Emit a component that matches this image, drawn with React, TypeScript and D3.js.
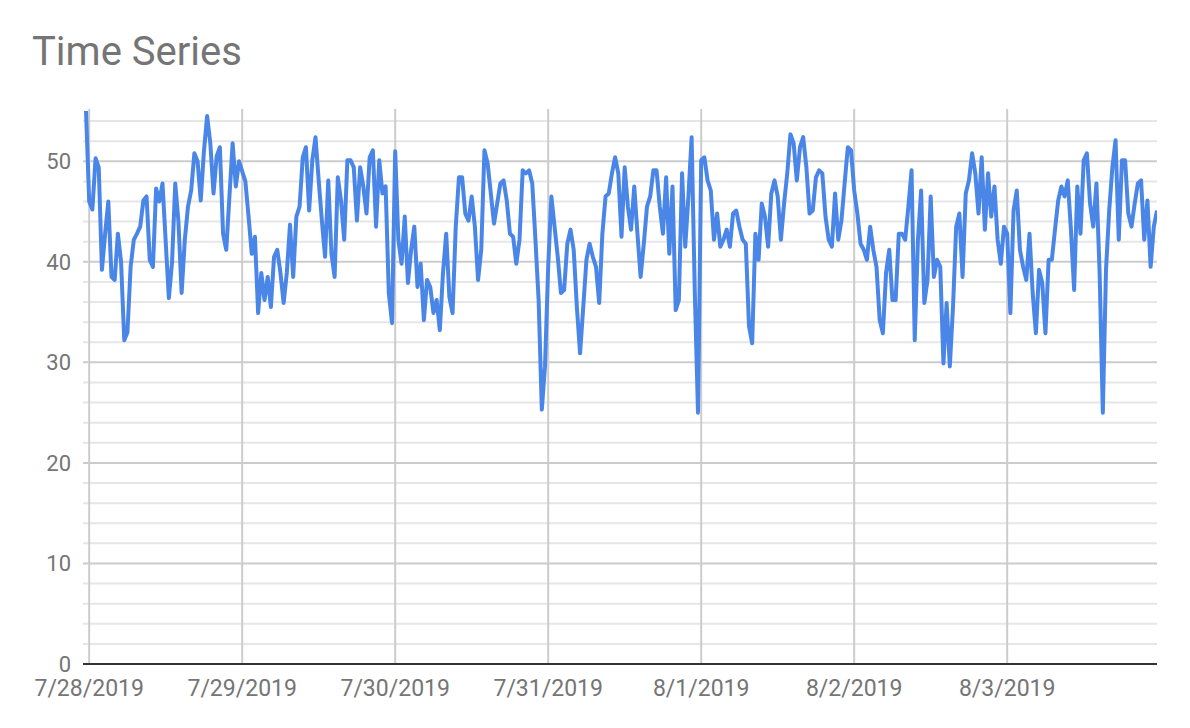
import * as d3 from 'd3';
import { FunctionComponent } from "react";

// one reading every 30 minutes, first reading at 7/27/2019 23:30
const startTime = new Date(2019, 6, 27, 23, 30);
const stepMinutes = 30;
const firstValue = [55];

const day0728 = [46, 45.2, 50.3, 49.4, 39.2, 42.8, 46, 38.5, 38.2, 42.8, 40, 32.2, 33, 39.5, 42.2, 42.8, 43.5, 46.1, 46.5, 40.2, 39.5, 47.3, 46, 47.8, 42, 36.4, 40, 47.8, 44, 36.9, 42.2, 45.5, 47.1, 50.8, 50, 46.1, 51, 54.5, 51.8, 46.8, 50.5, 51.4, 42.8, 41.2, 46.5, 51.8, 47.5, 50];
const day0729 = [49, 48, 44.5, 40.8, 42.5, 34.9, 38.9, 36.2, 38.5, 35.5, 40.5, 41.2, 38.9, 35.9, 38.9, 43.7, 38.5, 44.5, 45.5, 50.4, 51.4, 45.1, 50.1, 52.4, 48.1, 44.1, 40.5, 48.1, 40.8, 38.5, 48.4, 46.1, 42.2, 50.1, 50.1, 49.4, 44.1, 49.4, 47.5, 44.8, 50.4, 51.1, 43.5, 50.1, 46.8, 47.5, 36.9, 33.9];
const day0730 = [51, 42.2, 39.8, 44.5, 37.9, 41.2, 43.5, 37.5, 39.8, 34.2, 38.2, 37.5, 34.9, 36.2, 33.2, 38.9, 42.8, 36.5, 34.9, 43.5, 48.4, 48.4, 44.8, 44.1, 46.5, 43.5, 38.2, 41.2, 51.1, 49.8, 46.8, 43.8, 45.8, 47.8, 48.1, 46.1, 42.8, 42.5, 39.8, 42.2, 49.1, 48.8, 49.1, 47.8, 42.2, 36.2, 25.3, 29.6];
const day0731 = [39.5, 46.5, 43.5, 40.5, 36.9, 37.2, 41.8, 43.2, 41.2, 35.5, 30.9, 35.5, 40.2, 41.8, 40.5, 39.5, 35.9, 42.8, 46.5, 46.8, 48.8, 50.4, 48.8, 42.5, 49.4, 45.5, 43.2, 47.5, 42.8, 38.5, 41.8, 45.5, 46.5, 49.1, 49.1, 45.5, 42.8, 48.4, 40.8, 47.5, 35.2, 36.2, 48.8, 41.5, 46.5, 52.4, 36.9, 25];
const day0801 = [50.1, 50.4, 48.1, 47.1, 42.2, 44.8, 41.5, 42.2, 43.2, 41.5, 44.8, 45.1, 43.5, 42.2, 41.8, 33.6, 31.9, 42.8, 40.2, 45.8, 44.5, 41.5, 46.8, 48.1, 46.5, 42.2, 45.8, 48.8, 52.7, 51.8, 48.1, 51.4, 52.4, 49.4, 44.8, 45.1, 48.4, 49.1, 48.8, 44.5, 42.2, 41.5, 46.8, 42.2, 44.1, 47.8, 51.4, 51.1];
const day0802 = [47.1, 44.8, 41.8, 41.2, 40.2, 43.5, 41.2, 39.5, 34.2, 32.9, 38.9, 41.2, 36.2, 36.2, 42.8, 42.8, 42.2, 45.5, 49.1, 32.2, 42.2, 47.1, 35.9, 38.2, 46.5, 38.5, 40.2, 39.5, 29.9, 35.9, 29.6, 35.5, 43.5, 44.8, 38.5, 46.8, 48.1, 50.8, 48.8, 44.8, 50.4, 43.2, 48.8, 44.5, 47.5, 42.2, 39.8, 43.5];
const day0803 = [42.8, 34.9, 45.1, 47.1, 41.2, 39.5, 38.2, 42.8, 36.9, 32.9, 39.2, 37.9, 32.9, 40.2, 40.2, 43.2, 46.1, 47.5, 46.5, 48.1, 43.2, 37.2, 47.5, 42.8, 50.1, 50.8, 45.8, 43.5, 47.8, 38.9, 25, 39.2, 45.1, 49.4, 52.1, 42.2, 50.1, 50.1, 44.8, 43.5, 45.8, 47.8, 48.1, 42.2, 46.1, 39.5, 43.5, 45.1];

const majorTicks = [0, 10, 20, 30, 40, 50];
const minorTicks = [2, 4, 6, 8, 12, 14, 16, 18, 22, 24, 26, 28, 32, 34, 36, 38, 42, 44, 46, 48, 52, 54];

const title = "Time Series";

const values = [...firstValue, ...day0728, ...day0729, ...day0730, ...day0731, ...day0801, ...day0802, ...day0803];
const points = values.map((v, i) => ({ time: new Date(startTime.getTime() + i * stepMinutes * 60000), value: v }));

const width = 1190;
const height = 728;
const areaLeft = 83;
const areaRight = 1157;
const areaTop = 109;
const areaBottom = 664;
const font = "Roboto, 'Noto Sans', sans-serif";
const textColor = "#757575";

export const App: FunctionComponent = () => {
    const x = d3.scaleTime()
        .domain([points[0].time, points[points.length - 1].time])
        .range([86, areaRight]);
    const y = d3.scaleLinear([0, 55.2], [areaBottom, areaTop]);

    const line = d3.line<{ time: Date, value: number }>()
        .x(d => x(d.time))
        .y(d => y(d.value));

    const days = d3.timeDay.range(new Date(2019, 6, 28), new Date(2019, 7, 4));
    const fmt = d3.timeFormat("%-m/%-d/%Y");

    return <svg width={width} height={height} viewBox={`0 0 ${width} ${height}`}
        style={{ position: 'absolute', left: 0, top: 0, background: '#fff' }}>
        <defs>
            <clipPath id="plot-clip">
                <rect x={areaLeft} y={areaTop} width={areaRight - areaLeft} height={areaBottom - areaTop} />
            </clipPath>
        </defs>
        <text x={32} y={65} fontFamily={font} fontSize={40} fill={textColor}>{title}</text>

        {minorTicks.map(t =>
            <line key={'mi' + t} x1={areaLeft} x2={areaRight} y1={y(t)} y2={y(t)} stroke="#e6e6e6" strokeWidth={2} />)}
        {majorTicks.filter(t => t > 0).map(t =>
            <line key={'ma' + t} x1={areaLeft} x2={areaRight} y1={y(t)} y2={y(t)} stroke="#cccccc" strokeWidth={2} />)}
        {days.map(d =>
            <line key={'v' + d.getTime()} x1={x(d)} x2={x(d)} y1={areaTop} y2={areaBottom} stroke="#cccccc" strokeWidth={2} />)}

        <path d={line(points) ?? ''} fill="none" stroke="#4a86e8" strokeWidth={4} strokeLinejoin="round"
            clipPath="url(#plot-clip)" />

        <line x1={areaLeft} x2={areaRight} y1={areaBottom} y2={areaBottom} stroke="#333333" strokeWidth={2} />

        {majorTicks.map(t =>
            <text key={'yl' + t} x={71} y={y(t)} dy="0.36em" textAnchor="end"
                fontFamily={font} fontSize={22} fill={textColor}>{t}</text>)}
        {days.map(d =>
            <text key={'xl' + d.getTime()} x={x(d)} y={696} textAnchor="middle"
                fontFamily={font} fontSize={23} fill={textColor}>{fmt(d)}</text>)}
    </svg>
}

export default App;
